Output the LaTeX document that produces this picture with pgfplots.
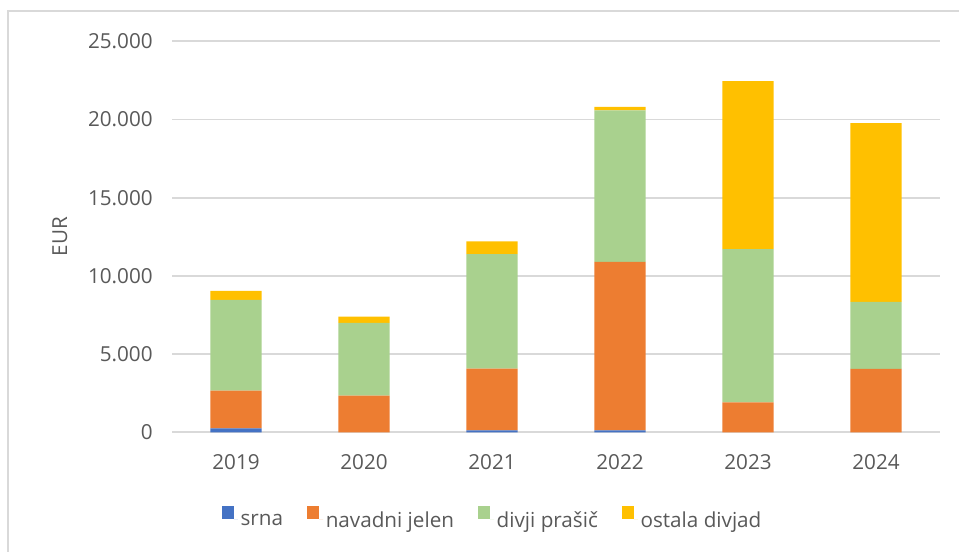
\documentclass[border=0pt]{standalone}
\usepackage{fontspec}
\setmainfont{Open Sans}
\usepackage{pgfplots}
\usepackage{pgfplotstable}
\pgfplotsset{compat=1.18}

\definecolor{srna}{HTML}{4472C4}
\definecolor{jelen}{HTML}{ED7D31}
\definecolor{prasic}{HTML}{A9D18E}
\definecolor{ostala}{HTML}{FFC000}
\definecolor{txt}{HTML}{595959}
\definecolor{gridc}{HTML}{D9D9D9}

% škoda po vrstah divjadi, EUR
\pgfplotstableread{
x srna jelen prasic ostala
0 260 2400 5810 580
1 0 2340 4650 400
2 130 3950 7310 815
3 130 10770 9675 235
4 0 1920 9790 10750
5 0 4050 4290 11430
}\skoda

\begin{document}
\begin{tikzpicture}[x=0.75pt,y=0.75pt]
\useasboundingbox (0,0) rectangle (959,551);
\draw[gridc, line width=1.3pt] (8,-10) -- (8,540) -- (975,540);
\begin{axis}[
  at={(129pt,89pt)}, anchor=south west,
  scale only axis,
  width=576pt, height=293.3pt,
  ybar stacked,
  bar width=0.4,
  xmin=-0.5, xmax=5.5,
  ymin=0, ymax=25000,
  xtick=data,
  xticklabels={2019,2020,2021,2022,2023,2024},
  ytick={0,5000,...,25000},
  scaled y ticks=false,
  /pgf/number format/.cd, 1000 sep={.}, assume math mode=true,
  /pgfplots/.cd,
  axis line style={draw=none},
  tick style={draw=none},
  ymajorgrids,
  grid style={gridc, line width=1.4pt},
  tick label style={text=txt, font=\fontsize{15.5}{18}\selectfont},
  yticklabel style={xshift=-11pt},
  xticklabel style={yshift=-13pt},
  ylabel={EUR},
  ylabel style={at={(axis description cs:-0.146,0.5)}, anchor=center,
    text=txt, font=\fontsize{15.5}{18}\selectfont},
  legend columns=4,
  legend style={at={(0.418,-0.222)}, anchor=center, draw=none,
    font=\fontsize{15.5}{18}\selectfont, text=txt,
    /tikz/every even column/.append style={column sep=16pt}},
  legend image code/.code={\fill[#1] (0pt,1pt) rectangle (9pt,10.6pt);
    \path (9pt,1pt) -- (12pt,1pt);},
]
  \addplot[fill=srna, draw=none] table[x=x, y=srna] {\skoda};
  \addlegendentry{srna}
  \addplot[fill=jelen, draw=none] table[x=x, y=jelen] {\skoda};
  \addlegendentry{navadni jelen}
  \addplot[fill=prasic, draw=none] table[x=x, y=prasic] {\skoda};
  \addlegendentry{divji prašič}
  \addplot[fill=ostala, draw=none] table[x=x, y=ostala] {\skoda};
  \addlegendentry{ostala divjad}
\end{axis}
\end{tikzpicture}
\end{document}
